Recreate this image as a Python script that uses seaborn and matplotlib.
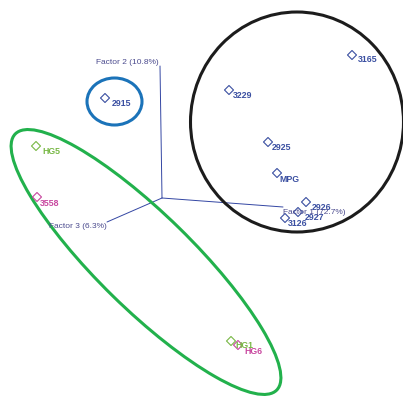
import matplotlib
matplotlib.use("Agg")
import matplotlib.pyplot as plt
from matplotlib.patches import Ellipse
import seaborn as sns
import pandas as pd

# Sample scores on the first factors (projected plot coordinates)
samples = ["3165", "3229", "2915", "2925", "MPG", "2926", "2927", "3126",
           "HG5", "3558", "HG1", "HG6"]
score_x = [190, 67, -57, 106, 115, 144, 136, 123, -126, -125, 69, 76]
score_y = [143, 108, 100, 56, 25, -4, -14, -20, 52, 1, -143, -147]
groups = ["blue", "blue", "blue", "blue", "blue", "blue", "blue", "blue",
          "green", "magenta", "green", "magenta"]

# Factor axes (end points from the origin) and their labels
factor_names = ["Factor 1 (72.7%)", "Factor 2 (10.8%)", "Factor 3 (6.3%)"]
factor_end_x = [121, -2, -55]
factor_end_y = [-9, 132, -24]

# Cluster outlines: centre x, centre y, width, height, angle
clusters = {
    "black": (135, 76, 213, 220, 0),
    "blue": (-47.5, 96.5, 55, 47, 0),
    "green": (-16, -64, 366, 95, -44.4),
}

palette = {"blue": "#3a4fa1", "green": "#78b845", "magenta": "#c8479f"}
outline_colors = {"black": "#1c1c1c", "blue": "#1b73b9", "green": "#22b14c"}

# label offsets in pixels (right, down)
label_offsets = {"3165": (6, 5), "3229": (4, 5), "2915": (7, 5), "2925": (4, 5),
                 "MPG": (2, 6), "2926": (6, 5), "2927": (7, 6), "3126": (3, 5),
                 "HG5": (6, 6), "3558": (3, 6), "HG1": (4, 4), "HG6": (6, 6)}

sns.set_theme(style="white")
plt.rcParams["font.family"] = ["Liberation Sans", "DejaVu Sans"]

fig = plt.figure(figsize=(4.03, 3.96), dpi=100)
ax = fig.add_axes([0, 0, 1, 1])
ax.set_xlim(-162, 241)
ax.set_ylim(-198, 198)
ax.set_axis_off()

axis_color = "#3346a3"
label_color = "#4b4b8e"
for name, ex, ey in zip(factor_names, factor_end_x, factor_end_y):
    ax.plot([0, ex], [0, ey], color=axis_color, lw=0.7, zorder=1)

ax.text(factor_end_x[0], factor_end_y[0] - 6, factor_names[0], fontsize=6,
        color=label_color, ha="left", va="center", zorder=5)
ax.text(factor_end_x[1] - 1, factor_end_y[1] + 3, factor_names[1], fontsize=6,
        color=label_color, ha="right", va="center", zorder=5)
ax.text(factor_end_x[2], factor_end_y[2] - 5, factor_names[2], fontsize=6,
        color=label_color, ha="right", va="center", zorder=5)

df = pd.DataFrame({"x": score_x, "y": score_y, "group": groups, "sample": samples})
sns.scatterplot(data=df, x="x", y="y", hue="group", palette=palette,
                marker="D", s=21, linewidth=0.8, legend=False, ax=ax, zorder=3)
for coll in ax.collections:
    fc = coll.get_facecolors()
    coll.set_edgecolors(fc)
    coll.set_facecolors("none")

for _, row in df.iterrows():
    dx, dy = label_offsets[row["sample"]]
    ax.annotate(row["sample"], (row["x"], row["y"]),
                xytext=(dx * 0.72, -dy * 0.72), textcoords="offset points",
                ha="left", va="center", fontsize=6.3, fontweight="bold",
                color=palette[row["group"]], zorder=4)

for key, (cx, cy, w, h, ang) in clusters.items():
    ax.add_patch(Ellipse((cx, cy), w, h, angle=ang, fill=False,
                         edgecolor=outline_colors[key], lw=2.2, zorder=2))

fig.savefig("out.png", dpi=100)
